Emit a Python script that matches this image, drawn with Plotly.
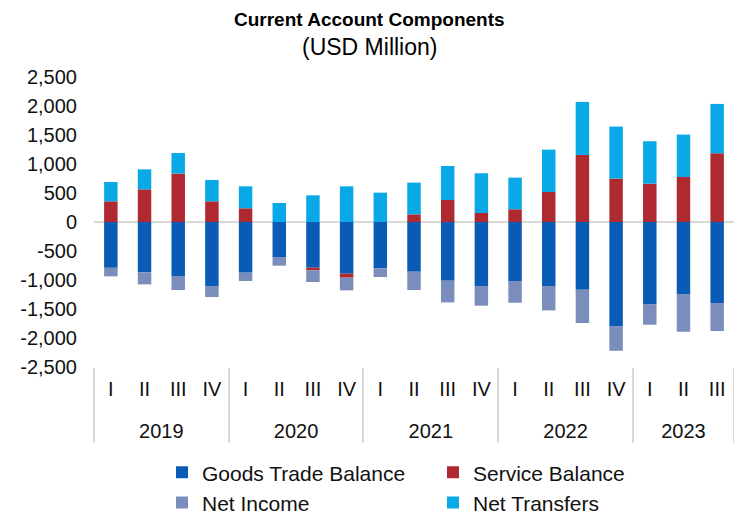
import plotly.graph_objects as go

years = ["2019"] * 4 + ["2020"] * 4 + ["2021"] * 4 + ["2022"] * 4 + ["2023"] * 3
quarters = ["I", "II", "III", "IV"] * 4 + ["I", "II", "III"]

goods_trade = [-790, -868, -931, -1104, -874, -604, -788, -891, -799, -857, -1012, -1104,
               -1018, -1104, -1167, -1800, -1415, -1242, -1397]
service_balance = [356, 563, 834, 356, 236, 0, -46, -69, 0, 132, 380, 155,
                   219, 518, 1156, 748, 661, 776, 1185]
net_income = [-147, -207, -242, -190, -144, -149, -201, -219, -150, -316, -374, -339,
              -374, -420, -575, -420, -356, -650, -483]
net_transfers = [334, 345, 356, 369, 379, 328, 460, 615, 506, 547, 586, 685,
                 546, 730, 914, 897, 731, 731, 851]

y_ticks = [-2500, -2000, -1500, -1000, -500, 0, 500, 1000, 1500, 2000, 2500]
y_ticktext = [("-" if v < 0 else "") + f"{abs(v):,}" for v in y_ticks]

series = [
    ("Goods Trade Balance", goods_trade, "#0A5BB5"),
    ("Service Balance", service_balance, "#AE2A30"),
    ("Net Income", net_income, "#7B8DBA"),
    ("Net Transfers", net_transfers, "#08A9E6"),
]

font_family = "Liberation Sans, Arial, sans-serif"

# quarter labels get an empty second line so the year row sits lower
quarter_labels = [q + "<br> " for q in quarters]

fig = go.Figure()
for name, vals, color in series:
    fig.add_trace(go.Bar(
        x=[years, quarter_labels], y=vals, name=name,
        marker=dict(color=color, line=dict(width=0)),
    ))

fig.update_layout(
    width=734, height=515,
    barmode="relative", bargap=0.6,
    paper_bgcolor="white", plot_bgcolor="white",
    font=dict(family=font_family, color="#111111", size=20),
    margin=dict(l=94, r=0, t=77, b=148, autoexpand=False),
    showlegend=True,
    legend=dict(
        orientation="h", xref="container", yref="container",
        x=0.2207, xanchor="left", y=0.122, yanchor="top",
        entrywidth=226, entrywidthmode="pixels",
        font=dict(size=21, family=font_family, color="#111111"),
        traceorder="normal", tracegroupgap=0,
    ),
    annotations=[
        dict(text="<b>Current Account Components</b>", xref="paper", yref="paper",
             x=0.431, y=1.1966, xanchor="center", yanchor="middle", showarrow=False,
             font=dict(size=19, family=font_family, color="#000000")),
        dict(text="(USD Million)", xref="paper", yref="paper",
             x=0.431, y=1.1034, xanchor="center", yanchor="middle", showarrow=False,
             font=dict(size=23, family=font_family, color="#000000")),
    ],
)
fig.update_yaxes(
    range=[-2500, 2500], tickvals=y_ticks, ticktext=y_ticktext,
    showgrid=False, zeroline=True, zerolinecolor="#D9D9D9", zerolinewidth=2,
    showline=False, ticks="", tickfont=dict(size=20), automargin=False,
    ticklabelstandoff=16,
)
fig.update_xaxes(
    type="multicategory", showgrid=False, showline=False, ticks="",
    dividercolor="#D9D9D9", dividerwidth=2, tickfont=dict(size=20),
    automargin=False, ticklabelstandoff=8,
)

fig.write_html("out.html", config={"displayModeBar": False},
               post_script="document.body.style.margin='0';")
